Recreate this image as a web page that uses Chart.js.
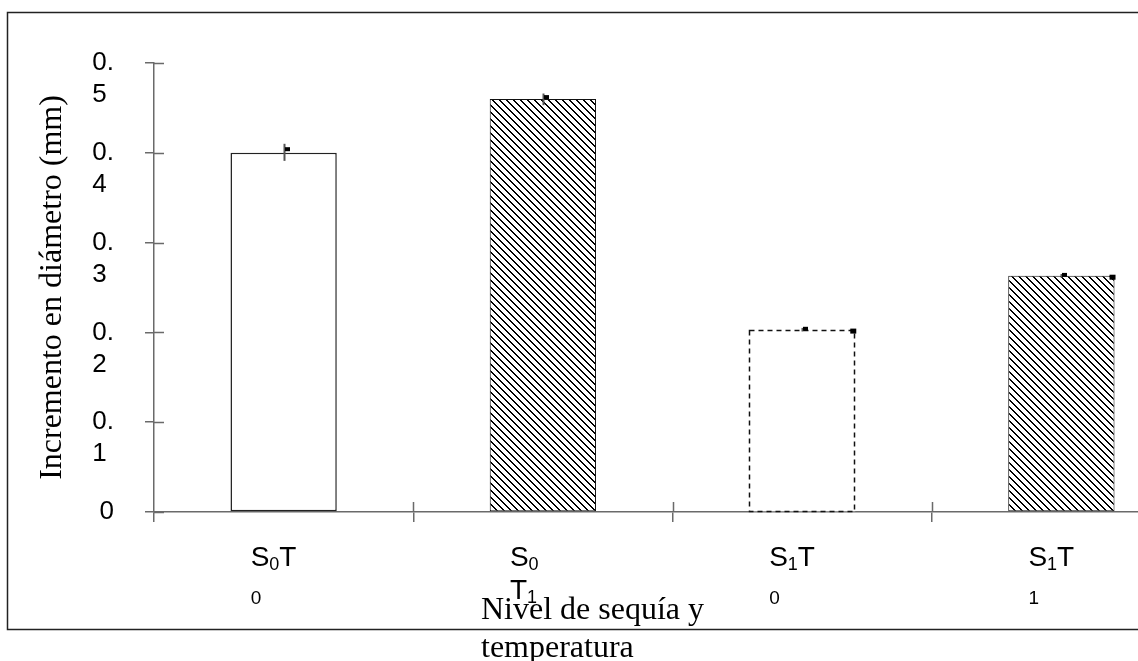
<!DOCTYPE html>
<html><head><meta charset="utf-8">
<script src="https://cdn.jsdelivr.net/npm/chart.js@4.4.1/dist/chart.umd.min.js"></script>
<style>
html,body{margin:0;padding:0;background:#fff;overflow:hidden;}
#wrap{position:relative;width:1138px;height:661px;overflow:hidden;background:#fff;}
canvas{display:block;}
</style></head><body>
<div id="wrap"><canvas id="c" width="1200" height="661" style="width:1200px;height:661px"></canvas></div>
<script>
// ---- data ----
const categories = ['S0T0', 'S0T1', 'S1T0', 'S1T1'];
const values = [0.400, 0.460, 0.203, 0.263];
const errPlus = [0.010, 0.006, 0.002, 0.002];
const errMinus = [0.009, 0.007, 0.002, 0.002];
const markerValues = [0.404, 0.462, 0.204, 0.264];
const cornerMarkerValues = [null, null, 0.202, 0.262];
const yTickValues = [0, 0.1, 0.2, 0.3, 0.4, 0.5];
const yTickLabels = [['0', ''], ['0.', '1 '], ['0.', '2 '], ['0.', '3 '], ['0.', '4 '], ['0.', '5 ']];
const yTitle = 'Incremento en diámetro (mm)';
const xTitleLines = ['Nivel de sequía y', 'temperatura'];
// tick label runs: [text, kind] ; kind: n = normal, s = subscript, m = small
const xTickLabelLines = [
  [[['S', 'n'], ['0', 's'], ['T', 'n']], [['0', 'm']]],
  [[['S', 'n'], ['0', 's']], [['T', 'n'], ['1', 's']]],
  [[['S', 'n'], ['1', 's'], ['T', 'n']], [['0', 'm']]],
  [[['S', 'n'], ['1', 's'], ['T', 'n']], [['1', 'm']]]
];

// ---- styles ----
function makeHatch() {
  const n = 7;
  const c = document.createElement('canvas');
  c.width = n; c.height = n;
  const g = c.getContext('2d');
  g.fillStyle = '#fff'; g.fillRect(0, 0, n, n);
  g.fillStyle = '#000';
  for (let i = 0; i < n; i++) {
    g.fillRect(i, i, 1, 1);
    g.fillRect((i + 1) % n, i, 1, 1);
  }
  return document.getElementById('c').getContext('2d').createPattern(c, 'repeat');
}
const hatch = makeHatch();
const barFills = ['#ffffff', hatch, '#ffffff', hatch];
const barBorders = ['#222222', '#111111', '#111111', '#111111'];
const barBorderWidths = [1.5, 1, 0, 1];
const dashedBars = [false, false, true, false];

const framePlugin = {
  id: 'frame',
  beforeDraw(chart) {
    const ctx = chart.ctx;
    ctx.save();
    ctx.fillStyle = '#fff';
    ctx.fillRect(0, 0, chart.width, chart.height);
    ctx.strokeStyle = '#222';
    ctx.lineWidth = 1.5;
    ctx.beginPath();
    ctx.moveTo(chart.width, 12.5);
    ctx.lineTo(7.5, 12.5);
    ctx.lineTo(7.5, 629.5);
    ctx.lineTo(chart.width, 629.5);
    ctx.stroke();
    ctx.restore();
  }
};

const decoPlugin = {
  id: 'deco',
  afterDatasetsDraw(chart) {
    const ctx = chart.ctx;
    const ys = chart.scales.y;
    const meta = chart.getDatasetMeta(0);
    ctx.save();
    // dashed bar borders
    meta.data.forEach((el, i) => {
      if (!dashedBars[i]) return;
      const p = el.getProps(['x', 'y', 'width', 'base'], true);
      ctx.setLineDash([5, 4]);
      ctx.strokeStyle = '#111';
      ctx.lineWidth = 1.5;
      ctx.strokeRect(Math.round(p.x - p.width / 2) + 0.5, Math.round(p.y) + 0.5, Math.round(p.width) - 1, Math.round(p.base - p.y) - 1);
      ctx.setLineDash([]);
    });
    // error bars
    meta.data.forEach((el, i) => {
      const x = Math.round(el.x) + 0.5;
      ctx.strokeStyle = '#555';
      ctx.lineWidth = 2;
      ctx.beginPath();
      ctx.moveTo(x, ys.getPixelForValue(values[i] + errPlus[i]));
      ctx.lineTo(x, ys.getPixelForValue(values[i] - errMinus[i]));
      ctx.stroke();
      ctx.fillStyle = '#000';
      const my = ys.getPixelForValue(markerValues[i]);
      ctx.fillRect(x + 0.5, my - 2, 5, 4);
      if (cornerMarkerValues[i] !== null) {
        const cy = ys.getPixelForValue(cornerMarkerValues[i]);
        ctx.fillRect(el.x + el.width / 2 - 5, cy - 2, 6, 5);
      }
    });
    ctx.restore();
  },
  afterDraw(chart) {
    const ctx = chart.ctx;
    const xs = chart.scales.x, ys = chart.scales.y;
    const area = chart.chartArea;
    ctx.save();
    // inner halves of the crossing tick marks
    ctx.strokeStyle = '#6a6a6a';
    ctx.lineWidth = 1.5;
    ctx.beginPath();
    yTickValues.forEach(v => {
      const y = Math.round(ys.getPixelForValue(v)) + 0.5;
      ctx.moveTo(area.left, y);
      ctx.lineTo(area.left + 10, y);
    });
    for (let i = 1; i < categories.length; i++) {
      const x = Math.round((xs.getPixelForValue(i - 1) + xs.getPixelForValue(i)) / 2) + 0.5;
      ctx.moveTo(x, area.bottom);
      ctx.lineTo(x, area.bottom - 10);
    }
    ctx.stroke();
    // x tick labels with subscripts
    ctx.fillStyle = '#000';
    ctx.textBaseline = 'alphabetic';
    ctx.textAlign = 'left';
    const fonts = { n: '28px "Liberation Sans", Arial, sans-serif', s: '18px "Liberation Sans", Arial, sans-serif', m: '19px "Liberation Sans", Arial, sans-serif' };
    const lineBase = [area.bottom + 54, area.bottom + 87];
    const drop = { n: 0, s: 4, m: 5 };
    xTickLabelLines.forEach((lines, i) => {
      const x0 = xs.getPixelForValue(i) - 33;
      lines.forEach((runs, li) => {
        let x = x0;
        runs.forEach(([t, k]) => {
          ctx.font = fonts[k];
          ctx.fillText(t, x, lineBase[li] + drop[k]);
          x += ctx.measureText(t).width;
        });
      });
    });
    // x axis title
    ctx.font = '32px "Liberation Serif", "Times New Roman", serif';
    ctx.fillText(xTitleLines[0], 481, 619);
    ctx.fillText(xTitleLines[1], 481, 657);
    ctx.restore();
  }
};

new Chart(document.getElementById('c'), {
  type: 'bar',
  data: {
    labels: categories,
    datasets: [{
      data: values,
      backgroundColor: barFills,
      borderColor: barBorders,
      borderWidth: barBorderWidths,
      borderSkipped: false,
      barPercentage: 0.41,
      categoryPercentage: 1
    }]
  },
  options: {
    responsive: false,
    animation: false,
    devicePixelRatio: 1,
    layout: { padding: { left: 0, top: 62, right: 9, bottom: 0 } },
    plugins: { legend: { display: false }, tooltip: { enabled: false } },
    scales: {
      x: {
        offset: true,
        grid: { display: true, offset: true, drawOnChartArea: false, drawTicks: true, tickLength: 10, color: '#6a6a6a', lineWidth: 1.5 },
        border: { display: true, color: '#6a6a6a', width: 1.5 },
        ticks: { display: false },
        afterFit(s) { s.height = 149; }
      },
      y: {
        min: 0, max: 0.5,
        afterBuildTicks(s) { s.ticks = yTickValues.map(v => ({ value: v })); },
        ticks: {
          autoSkip: false,
          crossAlign: 'near',
          padding: 31,
          labelOffset: 16,
          color: '#000',
          font: { family: '"Liberation Sans", Arial, sans-serif', size: 26, lineHeight: 1.23 },
          callback: (v) => yTickLabels[Math.round(v * 10)]
        },
        grid: { drawOnChartArea: false, tickLength: 9, color: '#6a6a6a', lineWidth: 1.5 },
        border: { display: true, color: '#6a6a6a', width: 1.5 },
        title: {
          display: true, text: yTitle, color: '#000',
          font: { family: '"Liberation Serif", "Times New Roman", serif', size: 32 },
          padding: { top: 33, bottom: 0 }
        },
        afterFit(s) { s.width = 154; }
      }
    }
  },
  plugins: [framePlugin, decoPlugin]
});
</script>
</body></html>
